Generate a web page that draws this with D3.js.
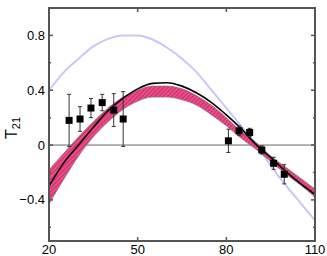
<!DOCTYPE html>
<html>
<head>
<meta charset="utf-8">
<script src="https://cdn.jsdelivr.net/npm/d3@7"></script>
<style>
  html, body { margin: 0; padding: 0; background: #fff; }
  svg { display: block; }
</style>
</head>
<body>
<svg id="chart" width="327" height="256"></svg>
<script>
// measured points with errors
const pointX = [26.8, 30.5, 34.2, 38.0, 41.9, 45.1, 80.7, 84.3, 87.9, 92.0, 96.0, 99.6];
const pointY = [0.18, 0.19, 0.27, 0.31, 0.255, 0.19, 0.031, 0.104, 0.092, -0.036, -0.133, -0.213];
const pointErr = [0.19, 0.09, 0.07, 0.06, 0.12, 0.2, 0.085, 0.035, 0.03, 0.03, 0.044, 0.07];

// curves sampled on this grid
const curveX = [20, 25, 30, 35, 40, 45, 50, 55, 60, 65, 70, 75, 80, 85, 90, 95, 100, 105, 110];
const blueY = [0.40, 0.53, 0.63, 0.72, 0.775, 0.80, 0.80, 0.77, 0.71, 0.63, 0.53, 0.40, 0.27, 0.14, 0.005, -0.15, -0.29, -0.42, -0.55];
const blackY = [-0.30, -0.13, 0.0, 0.13, 0.25, 0.34, 0.41, 0.45, 0.455, 0.43, 0.38, 0.31, 0.22, 0.12, 0.005, -0.09, -0.19, -0.28, -0.36];
const bandLow = [-0.43, -0.25, -0.08, 0.06, 0.17, 0.26, 0.32, 0.35, 0.35, 0.33, 0.29, 0.22, 0.14, 0.05, -0.03, -0.12, -0.21, -0.29, -0.38];
const bandHigh = [-0.18, -0.06, 0.06, 0.17, 0.27, 0.35, 0.40, 0.43, 0.43, 0.41, 0.36, 0.29, 0.20, 0.10, 0.02, -0.08, -0.16, -0.24, -0.32];

const xTicks = [20, 50, 80, 110];
const yTicks = [-0.4, 0, 0.4, 0.8];
const yMinor = [-0.6, -0.2, 0.2, 0.6];

const width = 327, height = 256;
const margin = { top: 8, right: 12, bottom: 15, left: 49 };

const svg = d3.select('#chart');

const x = d3.scaleLinear().domain([20, 110]).range([margin.left, width - margin.right]);
const y = d3.scaleLinear().domain([-0.7, 1.0]).range([height - margin.bottom, margin.top]);

// hatch pattern for the band
const defs = svg.append('defs');
const pat = defs.append('pattern')
  .attr('id', 'hatch')
  .attr('patternUnits', 'userSpaceOnUse')
  .attr('width', 3).attr('height', 3)
  .attr('patternTransform', 'rotate(45)');
pat.append('rect').attr('width', 3).attr('height', 3).attr('fill', '#f5488a');
pat.append('line')
  .attr('x1', 0).attr('y1', 0).attr('x2', 0).attr('y2', 3)
  .attr('stroke', '#5a2036').attr('stroke-width', 0.8);

defs.append('clipPath').attr('id', 'plotClip')
  .append('rect')
  .attr('x', margin.left).attr('y', margin.top)
  .attr('width', width - margin.left - margin.right)
  .attr('height', height - margin.top - margin.bottom);

const plot = svg.append('g').attr('clip-path', 'url(#plotClip)');

// zero line
plot.append('line')
  .attr('x1', x(20)).attr('x2', x(110))
  .attr('y1', y(0)).attr('y2', y(0))
  .attr('stroke', '#666').attr('stroke-width', 1);

const idx = d3.range(curveX.length);

// blue curve
plot.append('path')
  .attr('d', d3.line().x(i => x(curveX[i])).y(i => y(blueY[i])).curve(d3.curveMonotoneX)(idx))
  .attr('fill', 'none')
  .attr('stroke', '#c8c8f4')
  .attr('stroke-width', 2);

// pink band
plot.append('path')
  .attr('d', d3.area()
    .x(i => x(curveX[i]))
    .y0(i => y(bandLow[i]))
    .y1(i => y(bandHigh[i]))
    .curve(d3.curveMonotoneX)(idx))
  .attr('fill', 'url(#hatch)');

// thin gray edges of the band
[bandLow, bandHigh].forEach(arr => {
  plot.append('path')
    .attr('d', d3.line().x(i => x(curveX[i])).y(i => y(arr[i])).curve(d3.curveMonotoneX)(idx))
    .attr('fill', 'none')
    .attr('stroke', '#777')
    .attr('stroke-width', 0.7);
});

// black curve
plot.append('path')
  .attr('d', d3.line().x(i => x(curveX[i])).y(i => y(blackY[i])).curve(d3.curveMonotoneX)(idx))
  .attr('fill', 'none')
  .attr('stroke', '#000')
  .attr('stroke-width', 1.6);

// error bars
const pts = plot.append('g');
pointX.forEach((px, i) => {
  const cx = x(px);
  const top = y(pointY[i] + pointErr[i]);
  const bot = y(pointY[i] - pointErr[i]);
  pts.append('line').attr('x1', cx).attr('x2', cx).attr('y1', top).attr('y2', bot)
    .attr('stroke', '#333').attr('stroke-width', 1);
  [top, bot].forEach(yy => {
    pts.append('line').attr('x1', cx - 2).attr('x2', cx + 2).attr('y1', yy).attr('y2', yy)
      .attr('stroke', '#333').attr('stroke-width', 1);
  });
  pts.append('rect')
    .attr('x', cx - 3.5).attr('y', y(pointY[i]) - 3.5)
    .attr('width', 7).attr('height', 7)
    .attr('fill', '#000');
});

// frame
const axisColor = '#555';
svg.append('rect')
  .attr('x', margin.left).attr('y', margin.top)
  .attr('width', width - margin.left - margin.right)
  .attr('height', height - margin.top - margin.bottom)
  .attr('fill', 'none')
  .attr('stroke', axisColor)
  .attr('stroke-width', 2);

// ticks (all inward)
const tk = svg.append('g').attr('stroke', axisColor).attr('stroke-width', 1.5);
xTicks.forEach(t => {
  tk.append('line').attr('x1', x(t)).attr('x2', x(t)).attr('y1', y(-0.7)).attr('y2', y(-0.7) - 4);
  tk.append('line').attr('x1', x(t)).attr('x2', x(t)).attr('y1', y(1.0)).attr('y2', y(1.0) + 4);
});
yTicks.forEach(t => {
  tk.append('line').attr('x1', x(20) - 1).attr('x2', x(20) + 4).attr('y1', y(t)).attr('y2', y(t));
  tk.append('line').attr('x1', x(110)).attr('x2', x(110) - 4).attr('y1', y(t)).attr('y2', y(t));
});
yMinor.forEach(t => {
  tk.append('line').attr('x1', x(20)).attr('x2', x(20) + 2).attr('y1', y(t)).attr('y2', y(t));
  tk.append('line').attr('x1', x(110)).attr('x2', x(110) - 2).attr('y1', y(t)).attr('y2', y(t));
});

// tick labels
const font = "'Liberation Sans', Arial, sans-serif";
const fmt = d3.format('.1f');
svg.append('g').selectAll('text').data(yTicks).join('text')
  .attr('x', x(20) - 4).attr('y', d => y(d) + 4.5)
  .attr('text-anchor', 'end')
  .attr('font-family', font).attr('font-size', 13).attr('fill', '#000')
  .text(d => d === 0 ? '0' : fmt(d));

svg.append('g').selectAll('text').data(xTicks).join('text')
  .attr('x', d => x(d)).attr('y', 254)
  .attr('text-anchor', 'middle')
  .attr('font-family', font).attr('font-size', 13).attr('fill', '#000')
  .text(d => d);

// y label T21
const lab = svg.append('text')
  .attr('transform', 'translate(17,139) rotate(-90)')
  .attr('font-family', font).attr('font-size', 16).attr('fill', '#000');
lab.append('tspan').text('T');
lab.append('tspan').attr('font-size', 11).attr('dy', 3).text('21');
</script>
</body>
</html>
